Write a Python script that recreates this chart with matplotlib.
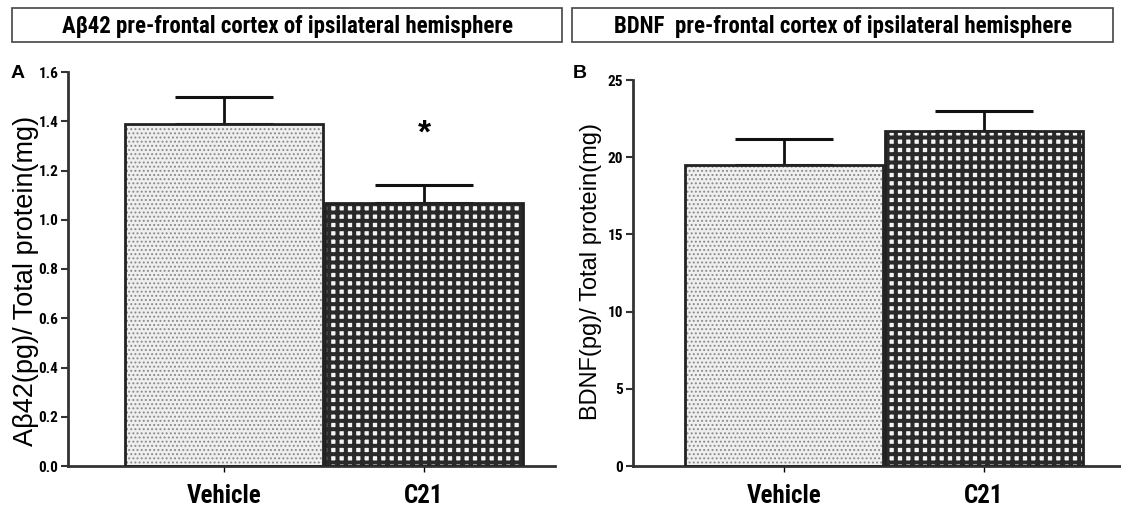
import matplotlib
matplotlib.use("Agg")
import matplotlib.pyplot as plt
from matplotlib.patches import Rectangle

groups = ["Vehicle", "C21"]
abeta_mean = [1.39, 1.07]
abeta_sem = [0.11, 0.07]
bdnf_mean = [19.5, 21.7]
bdnf_sem = [1.7, 1.3]
abeta_ticks = [0.0, 0.2, 0.4, 0.6, 0.8, 1.0, 1.2, 1.4, 1.6]
bdnf_ticks = [0, 5, 10, 15, 20, 25]

NARROW = ["Roboto Condensed", "DejaVu Sans"]
REG = ["Liberation Sans", "DejaVu Sans"]

fig = plt.figure(figsize=(11.21, 5.12), dpi=100)


def draw_bars(ax, means, sems):
    x = list(range(len(means)))
    # vehicle: light dotted fill
    with plt.rc_context({"hatch.linewidth": 0.9}):
        ax.bar(x[0], means[0], width=0.99, color="#efefef",
               edgecolor="#8a8a8a", hatch="....", linewidth=0, zorder=2)
    # C21: dark grid with small white holes
    with plt.rc_context({"hatch.linewidth": 2.9}):
        ax.bar(x[1], means[1], width=0.99, color="#f4f4f4",
               edgecolor="#2a2a2a", hatch="++", linewidth=0, zorder=2)
    ax.bar(x, means, width=0.99, fill=False, edgecolor="#222222",
           linewidth=2, zorder=3)
    ax.errorbar(x, means, yerr=[[0] * len(sems), sems], fmt="none",
                ecolor="#111111", elinewidth=2, capsize=35, capthick=2.2,
                zorder=1)
    ax.set_xticks(x)
    ax.set_xticklabels(groups, family=NARROW, fontweight="bold", fontsize=18)
    for s in ["top", "right"]:
        ax.spines[s].set_visible(False)
    for s in ["left", "bottom"]:
        ax.spines[s].set_linewidth(2)
        ax.spines[s].set_color("#333333")
    ax.tick_params(axis="y", length=5, width=1.5, pad=2, color="#333333")
    ax.tick_params(axis="x", length=4, width=1, pad=9)


# panel A
axA = fig.add_axes([68 / 1121, 46 / 512, (555 - 68) / 1121, (466 - 72) / 512])
draw_bars(axA, abeta_mean, abeta_sem)
axA.set_xlim(-0.78, 1.655)
axA.set_ylim(0, 1.6)
axA.set_yticks(abeta_ticks)
axA.set_yticklabels([f"{t:.1f}" for t in abeta_ticks],
                    family=NARROW, fontweight="bold", fontsize=11)
axA.text(1, abeta_mean[1] + abeta_sem[1] + 0.21, "*", ha="center", va="center",
         fontsize=24, fontweight="bold", family=REG)
fig.text(26 / 1121, 1 - 281 / 512, "Aβ42(pg)/ Total protein(mg)", rotation=90,
         ha="center", va="center", fontsize=19.5, family=REG)
fig.text(18 / 1121, 1 - 73 / 512, "A", ha="center", va="center",
         fontsize=14, fontweight="bold", family=REG)

# panel B
axB = fig.add_axes([633 / 1121, 46 / 512, (1120 - 633) / 1121, (466 - 80) / 512])
draw_bars(axB, bdnf_mean, bdnf_sem)
axB.set_xlim(-0.755, 1.68)
axB.set_ylim(0, 25)
axB.set_yticks(bdnf_ticks)
axB.set_yticklabels([str(t) for t in bdnf_ticks],
                    family=NARROW, fontweight="bold", fontsize=11)
fig.text(591 / 1121, 1 - 271 / 512, "BDNF(pg)/ Total protein(mg)", rotation=90,
         ha="center", va="center", fontsize=17, family=REG)
fig.text(580 / 1121, 1 - 73 / 512, "B", ha="center", va="center",
         fontsize=14, fontweight="bold", family=REG)

# title boxes
titles = [("Aβ42 pre-frontal cortex of ipsilateral hemisphere", 12, 562),
          ("BDNF  pre-frontal cortex of ipsilateral hemisphere", 572, 1113)]
for text, x0, x1 in titles:
    fig.patches.append(Rectangle((x0 / 1121, 1 - 42 / 512), (x1 - x0) / 1121,
                                 34 / 512, transform=fig.transFigure,
                                 fill=False, edgecolor="#444444", linewidth=1.2))
    fig.text((x0 + x1) / 2 / 1121, 1 - 27 / 512, text, ha="center", va="center",
             fontsize=16.5, fontweight="bold", family=NARROW)

fig.savefig("out.png", dpi=100)
